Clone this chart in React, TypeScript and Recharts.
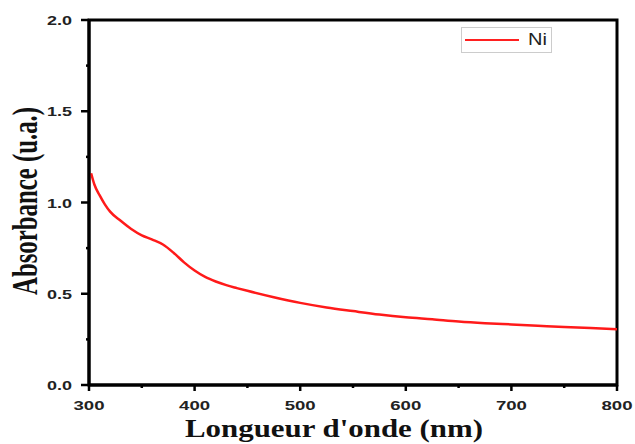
import { LineChart, Line, XAxis, YAxis, ReferenceArea } from "recharts"

// wavelength (nm) and absorbance
const wavelength = [302, 305, 310, 315, 320, 330, 340, 350, 360, 370, 380, 390, 400, 410, 420, 430, 440, 450, 475, 500, 525, 550, 575, 600, 625, 650, 675, 700, 725, 750, 775, 800]
const absorbance = [1.16, 1.1, 1.04, 0.99, 0.95, 0.9, 0.855, 0.82, 0.797, 0.77, 0.725, 0.672, 0.627, 0.592, 0.567, 0.547, 0.531, 0.516, 0.481, 0.45, 0.425, 0.405, 0.386, 0.371, 0.36, 0.348, 0.339, 0.332, 0.325, 0.318, 0.312, 0.305]

const xTicks = [300, 350, 400, 450, 500, 550, 600, 650, 700, 750, 800]
const yTicks = [0, 0.25, 0.5, 0.75, 1, 1.25, 1.5, 1.75, 2]

const data = wavelength.map((w, i) => ({ w, Ni: absorbance[i] }))

const tickFont = { fontFamily: "Liberation Sans, Arial, sans-serif", fontWeight: 700, fontSize: 13, fill: "#222" }
const titleFont = { fontFamily: "Liberation Serif, Times New Roman, serif", fontWeight: 700, fill: "#111" }

function XTick(props: any) {
  const { x, y, payload } = props
  const major = payload.value % 100 === 0
  return (
    <g>
      <line x1={x} x2={x} y1={y} y2={y + (major ? 6 : 3)} stroke="#000" strokeWidth={2.5} />
      {major && (
        <text x={x} y={y + 25} textAnchor="middle" textLength={31} lengthAdjust="spacingAndGlyphs" {...tickFont}>
          {payload.value}
        </text>
      )}
    </g>
  )
}

function YTick(props: any) {
  const { x, y, payload } = props
  const major = Math.abs((payload.value * 2) % 1) < 1e-6
  return (
    <g>
      <line x1={x} x2={x - (major ? 8 : 3)} y1={y} y2={y} stroke="#000" strokeWidth={2.5} />
      {major && (
        <text x={x - 42} y={y + 5} textAnchor="start" textLength={25} lengthAdjust="spacingAndGlyphs" {...tickFont}>
          {payload.value.toFixed(1)}
        </text>
      )}
    </g>
  )
}

function XTitle(props: any) {
  const { viewBox } = props
  const cx = viewBox.x + viewBox.width / 2 - 19
  return (
    <text x={cx} y={437} textAnchor="middle" fontSize={25} textLength={298} lengthAdjust="spacingAndGlyphs" {...titleFont}>
      Longueur d'onde (nm)
    </text>
  )
}

function YTitle() {
  return (
    <text
      transform="translate(37,201) rotate(-90) scale(1,1.45)"
      x={0}
      y={0}
      textAnchor="middle"
      fontSize={25}
      textLength={188}
      lengthAdjust="spacingAndGlyphs"
      {...titleFont}
    >
      Absorbance (u.a.)
    </text>
  )
}

export default function App() {
  return (
    <div style={{ position: "absolute", left: 0, top: 0, width: 635, height: 444, background: "#fff" }}>
      <LineChart width={635} height={444} data={data} margin={{ top: 20, right: 18, left: 0, bottom: 0 }}>
        <XAxis
          dataKey="w"
          type="number"
          domain={[300, 800]}
          ticks={xTicks}
          interval={0}
          height={59}
          stroke="#000"
          strokeWidth={3}
          tickLine={false}
          tickSize={0}
          tickMargin={0}
          tick={<XTick />}
          label={<XTitle />}
        />
        <YAxis
          type="number"
          domain={[0, 2]}
          ticks={yTicks}
          interval={0}
          width={89}
          stroke="#000"
          strokeWidth={3}
          tickLine={false}
          tickSize={0}
          tickMargin={0}
          tick={<YTick />}
          label={<YTitle />}
        />
        <ReferenceArea x1={300} x2={800} y1={0} y2={2} fill="none" stroke="#000" strokeWidth={3} ifOverflow="visible" />
        <Line dataKey="Ni" type="monotone" stroke="#ff1a1a" strokeWidth={2.5} dot={false} isAnimationActive={false} />
      </LineChart>
      <div
        style={{
          position: "absolute",
          left: 461,
          top: 27,
          width: 91,
          height: 26,
          border: "1px solid #ccc",
          boxSizing: "border-box",
          display: "flex",
          alignItems: "center",
        }}
      >
        <div style={{ width: 54, height: 2, background: "#ff2020", marginLeft: 3 }} />
        <span
          style={{
            fontFamily: "Liberation Sans, Arial, sans-serif",
            fontSize: 16,
            color: "#222",
            marginLeft: 9,
            display: "inline-block",
            transform: "scaleX(1.25)",
            transformOrigin: "left center",
          }}
        >
          Ni
        </span>
      </div>
    </div>
  )
}
